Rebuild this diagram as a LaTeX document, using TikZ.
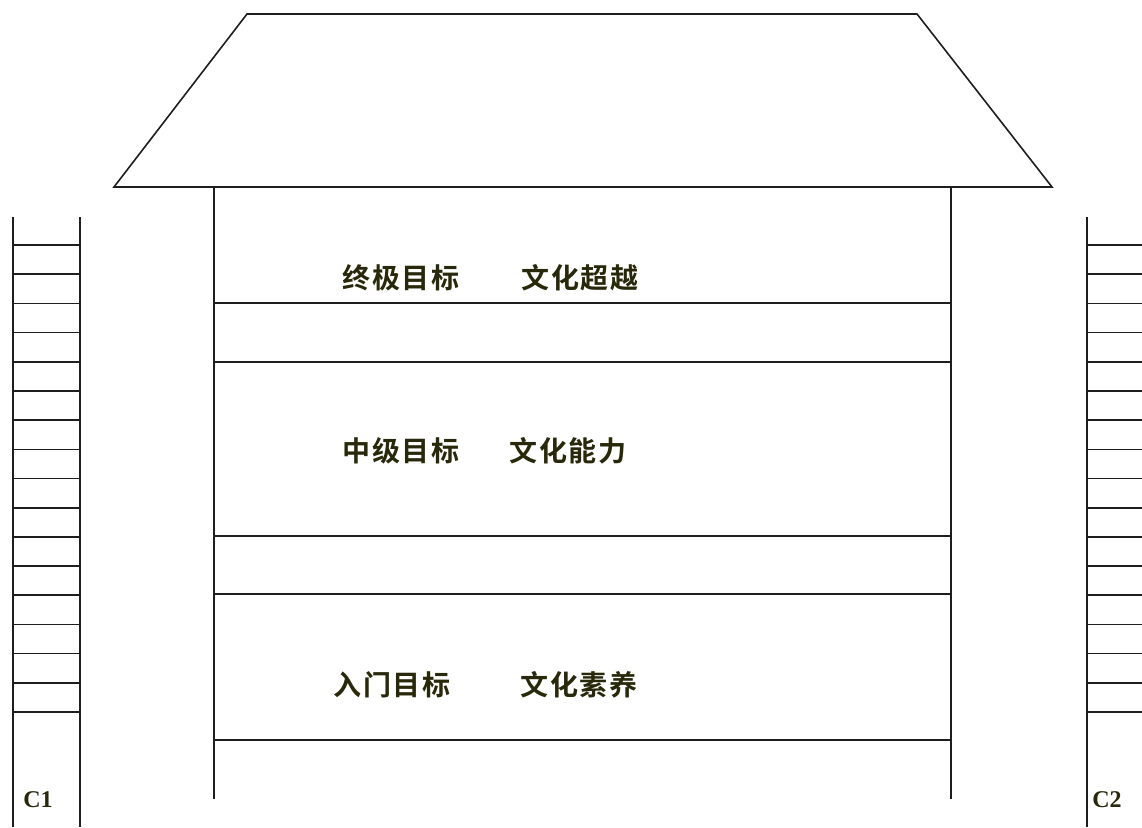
\documentclass[tikz,border=0pt]{standalone}
\usepackage{fontspec}
\setmainfont{Liberation Serif}
\newfontfamily\cjk{Noto Sans CJK SC Bold}[LetterSpace=5]
\definecolor{txt}{RGB}{40,40,10}
\definecolor{ln}{RGB}{30,30,30}
\tikzset{
  wall/.style={draw=ln, line width=1.6pt},
  cn/.style={font=\cjk\fontsize{28}{28}\selectfont, text=txt, inner sep=0pt},
  lab/.style={font=\bfseries\fontsize{24}{24}\selectfont, text=txt, inner sep=0pt}
}
\begin{document}
\begin{tikzpicture}[x=1pt,y=-1pt]
\useasboundingbox (0,0) rectangle (1142,827);
% roof
\coordinate (rbl) at (114,187);
\coordinate (rtl) at (247,14);
\coordinate (rtr) at (917,14);
\coordinate (rbr) at (1052,187);
\draw[wall, line join=miter] (rbl) -- (rtl) -- (rtr) -- (rbr) -- cycle;
% walls
\coordinate (wlt) at (214,187);
\coordinate (wlb) at (214,799);
\coordinate (wrt) at (951,187);
\coordinate (wrb) at (951,799);
\draw[wall] (wlt) -- (wlb);
\draw[wall] (wrt) -- (wrb);
% floors
\foreach \y in {303,362,536,594,740}
  \draw[wall] (214,\y) -- (951,\y);
% texts
\node[cn] (t1a) at (401,278) {终极目标};
\node[cn] (t1b) at (580,278) {文化超越};
\node[cn] (t2a) at (401,451) {中级目标};
\node[cn] (t2b) at (568,451) {文化能力};
\node[cn] (t3a) at (392,685) {入门目标};
\node[cn] (t3b) at (579,685) {文化素养};
% left ladder
\draw[wall] (13,217) -- (13,827);
\draw[wall] (80,217) -- (80,827);
\foreach \i in {0,...,16}
  \draw[wall] (13,245+29.19*\i) -- (80,245+29.19*\i);
\node[lab] (c1) at (38,800) {C1};
% right ladder
\draw[wall] (1087,217) -- (1087,827);
\foreach \i in {0,...,16}
  \draw[wall] (1087,245+29.19*\i) -- (1142,245+29.19*\i);
\node[lab] (c2) at (1107,800) {C2};
\end{tikzpicture}
\end{document}
